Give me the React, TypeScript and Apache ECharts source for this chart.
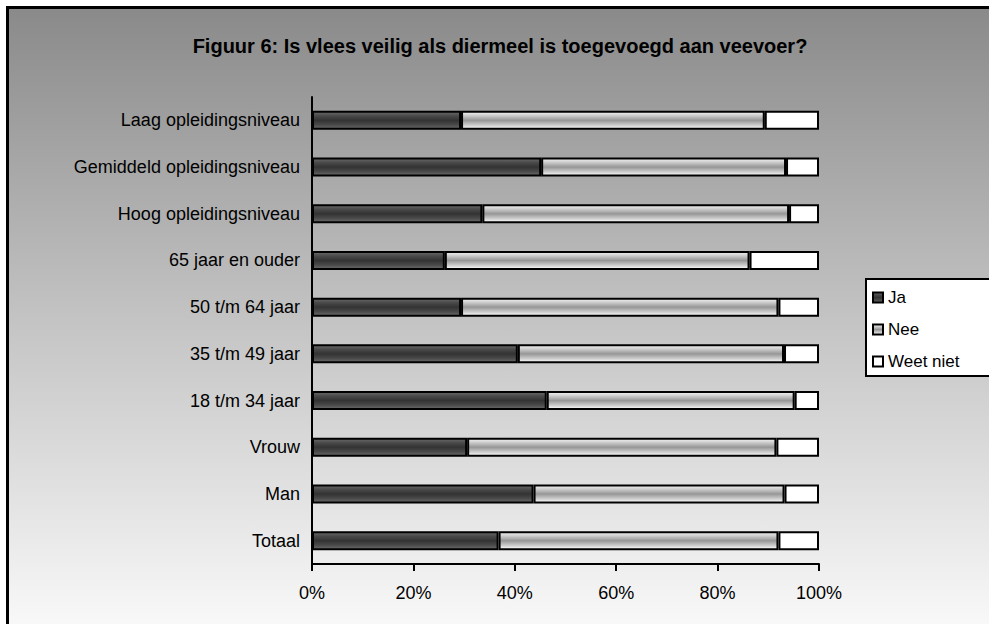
import React, { useEffect, useRef } from "react";
import * as echarts from "echarts";

const categories = [
  "Laag opleidingsniveau",
  "Gemiddeld opleidingsniveau",
  "Hoog opleidingsniveau",
  "65 jaar en ouder",
  "50 t/m 64 jaar",
  "35 t/m 49 jaar",
  "18 t/m 34 jaar",
  "Vrouw",
  "Man",
  "Totaal",
];
const ja = [29.4, 45.2, 33.6, 26.2, 29.4, 40.6, 46.3, 30.6, 43.7, 36.8];
const nee = [59.9, 48.3, 60.5, 60.1, 62.6, 52.5, 48.9, 61.0, 49.5, 55.2];
const weetNiet = [10.7, 6.5, 5.9, 13.7, 8.0, 6.9, 4.8, 8.4, 6.8, 8.0];
const xTicks = [0, 20, 40, 60, 80, 100];

const FONT = "'Liberation Sans', Arial, sans-serif";

export default function App() {
  const ref = useRef<HTMLDivElement>(null);
  useEffect(() => {
    if (!ref.current) return;
    const chart = echarts.init(ref.current, null, { renderer: "svg" });
    const darkGrad = new echarts.graphic.LinearGradient(0, 0, 0, 1, [
      { offset: 0, color: "#6a6a6a" },
      { offset: 0.25, color: "#484848" },
      { offset: 0.5, color: "#333333" },
      { offset: 0.75, color: "#484848" },
      { offset: 1, color: "#6a6a6a" },
    ]);
    const lightGrad = new echarts.graphic.LinearGradient(0, 0, 0, 1, [
      { offset: 0, color: "#f4f4f4" },
      { offset: 0.2, color: "#d0d0d0" },
      { offset: 0.5, color: "#969696" },
      { offset: 0.8, color: "#d0d0d0" },
      { offset: 1, color: "#ffffff" },
    ]);
    const barCommon = {
      type: "bar" as const,
      stack: "total",
      barWidth: 19,
    };
    chart.setOption({
      animation: false,
      backgroundColor: "transparent",
      textStyle: { fontFamily: FONT, color: "#000" },
      title: {
        text: "Figuur 6: Is vlees veilig als diermeel is toegevoegd aan veevoer?",
        left: 486,
        top: 22,
        textAlign: "center",
        textStyle: { fontFamily: FONT, fontSize: 20, fontWeight: "bold", color: "#000" },
      },
      legend: {
        orient: "vertical",
        left: 857,
        top: 270,
        backgroundColor: "#ffffff",
        borderColor: "#000",
        borderWidth: 2,
        borderRadius: 0,
        padding: [10, 40, 6, 6],
        itemGap: 15,
        itemWidth: 10,
        itemHeight: 10,
        icon: "rect",
        textStyle: { fontFamily: FONT, fontSize: 17, color: "#000" },
        data: ["Ja", "Nee", "Weet niet"],
      },
      grid: { left: 303, right: 170, top: 88, bottom: 60, containLabel: false },
      xAxis: {
        type: "value",
        min: xTicks[0],
        max: xTicks[xTicks.length - 1],
        interval: 20,
        axisLine: { show: true, lineStyle: { color: "#000", width: 2 } },
        axisTick: { show: true, length: 7, lineStyle: { color: "#000", width: 2 } },
        splitLine: { show: false },
        axisLabel: {
          formatter: "{value}%",
          fontFamily: FONT,
          fontSize: 18,
          color: "#000",
          margin: 20,
        },
      },
      yAxis: {
        type: "category",
        data: categories,
        inverse: true,
        axisLine: { show: true, lineStyle: { color: "#000", width: 2 } },
        axisTick: { show: false },
        axisLabel: { fontFamily: FONT, fontSize: 18, color: "#000", margin: 12 },
      },
      series: [
        {
          ...barCommon,
          name: "Ja",
          data: ja,
          itemStyle: { color: darkGrad, borderColor: "#000", borderWidth: 2 },
        },
        {
          ...barCommon,
          name: "Nee",
          data: nee,
          itemStyle: { color: lightGrad, borderColor: "#000", borderWidth: 2 },
        },
        {
          ...barCommon,
          name: "Weet niet",
          data: weetNiet,
          itemStyle: { color: "#ffffff", borderColor: "#000", borderWidth: 2 },
        },
      ],
    });
    return () => chart.dispose();
  }, []);

  return (
    <div
      style={{
        position: "absolute",
        left: 6,
        top: 6,
        width: 990,
        height: 625,
        border: "3px solid #000",
        background: "linear-gradient(to bottom, #8a8a8a 0%, #c4c4c4 50%, #fafafa 100%)",
        overflow: "hidden",
      }}
    >
      <div ref={ref} style={{ width: 980, height: 615 }} />
    </div>
  );
}
